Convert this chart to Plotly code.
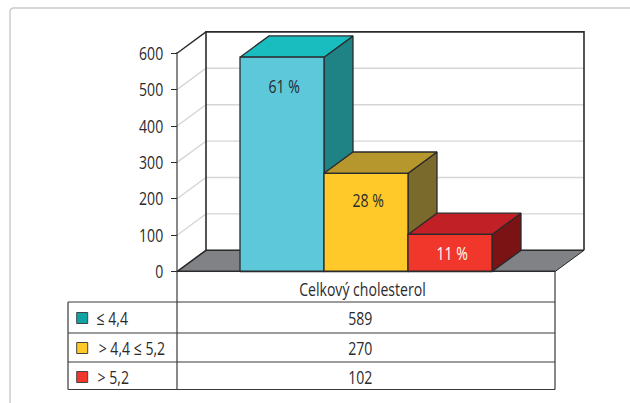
import plotly.graph_objects as go

# Cholesterol groups and patient counts
group_labels = ["≤ 4,4", "> 4,4 ≤ 5,2", "> 5,2"]
patient_counts = [589, 270, 102]
percent_labels = ["61 %", "28 %", "11 %"]
percent_colors = ["#2b2a2c", "#2b2a2c", "#ffffff"]
category_label = "Celkový cholesterol"
y_ticks = [0, 100, 200, 300, 400, 500, 600]

# Face colours per bar
front_colors = ["#5cc8da", "#ffc929", "#f1372c"]
top_colors = ["#19bdc0", "#b5972e", "#c02026"]
side_colors = ["#1f8285", "#7a6a2b", "#7b1214"]
swatch_colors = ["#0fa3a3", "#ffc929", "#f1372c"]

W, H = 630, 403
AXIS_X, PLOT_W = 177.0, 378.0     # left edge and width of the category band
BASE_Y, PX_PER_UNIT = 271.6, 0.364
DEPTH_X, DEPTH_Y = 29.0, 21.3     # oblique projection offset, in pixels
BAR_W = 2 / 9                     # bar width as a share of the category band
FIRST_BAR = 1 / 6
INK = "#2b2a2c"
FONT = "Open Sans, sans-serif"
FONT_SIZE = 19

dx = DEPTH_X / PLOT_W
dv = DEPTH_Y / PX_PER_UNIT
y_top = 600
x_range = [-AXIS_X / PLOT_W, (W - AXIS_X) / PLOT_W]
y_range = [-(H - BASE_Y) / PX_PER_UNIT, BASE_Y / PX_PER_UNIT]


def px_x(p):
    return (p - AXIS_X) / PLOT_W


def px_y(p):
    return (BASE_Y - p) / PX_PER_UNIT


fig = go.Figure()


def poly(xs, ys, fill=None, line=INK, width=1.3):
    fig.add_trace(go.Scatter(
        x=xs, y=ys, mode="lines", hoverinfo="skip", showlegend=False,
        fill="toself" if fill else None, fillcolor=fill,
        line=dict(color=line, width=width),
    ))


# Floor of the 3D box
poly([0, 1, 1 + dx, dx, 0], [0, 0, dv, dv, 0], fill="#808285", line="#808285", width=0.5)

# Gridlines on the side and back walls
for t in y_ticks[1:-1]:
    poly([0, dx, 1 + dx], [t, t + dv, t + dv], line="#d6d6d6", width=1.4)

# Box edges
poly([dx, dx, 1 + dx, 1 + dx], [dv, y_top + dv, y_top + dv, dv], line=INK, width=1.6)
poly([0, dx], [y_top, y_top + dv], line=INK, width=1.4)
poly([0, dx, 1 + dx], [0, dv, dv], line=INK, width=1.6)
poly([1, 1 + dx], [0, dv], line=INK, width=1.0)

# Bars, each made of front, side and top faces
for i, value in enumerate(patient_counts):
    x0 = FIRST_BAR + i * BAR_W
    x1 = x0 + BAR_W
    poly([x1, x1 + dx, x1 + dx, x1, x1], [0, dv, value + dv, value, 0], fill=side_colors[i])
    poly([x0, x0 + dx, x1 + dx, x1, x0], [value, value + dv, value + dv, value, value], fill=top_colors[i])
    poly([x0, x1, x1, x0, x0], [0, 0, value, value, 0], fill=front_colors[i])

# Legend keys in the table
row_lines = [302, 333, 362, 389.5]
row_centers = [318, 348, 377]
fig.add_trace(go.Scatter(
    x=[px_x(82.2)] * 3, y=[px_y(c) for c in row_centers], mode="markers",
    hoverinfo="skip", showlegend=False,
    marker=dict(symbol="square", size=11, color=swatch_colors, line=dict(color="#444", width=1)),
))


def rule(x0, y0, x1, y1, color="#3a3a3c", width=1.2):
    return dict(type="line", xref="paper", yref="paper", x0=x0 / W, x1=x1 / W,
                y0=1 - y0 / H, y1=1 - y1 / H, line=dict(color=color, width=width))


shapes = [
    # Rounded panel outline, running off the right and bottom of the page
    dict(type="path", xref="paper", yref="paper", layer="below",
         path=f"M {10 / W} 0 L {10 / W} {1 - 12 / H} Q {10 / W} {1 - 8 / H} {14 / W} {1 - 8 / H} L 1 {1 - 8 / H}",
         line=dict(color="#c9c9c9", width=1.4)),
    rule(AXIS_X, 52, AXIS_X, row_lines[-1]),
    rule(555, 271.3, 555, row_lines[-1]),
    rule(68, row_lines[0], 68, row_lines[-1]),
    rule(AXIS_X, 271.3, 555, 271.3, color=INK, width=1.4),
]
for y in row_lines:
    shapes.append(rule(68, y, 555, y))

annotations = []


def label(text, x, y, color=INK):
    annotations.append(dict(
        text=text, x=x / W, y=1 - y / H, xref="paper", yref="paper", showarrow=False,
        xanchor="center", yanchor="middle", font=dict(family=FONT, size=FONT_SIZE, color=color),
    ))


label(category_label, 362, 288.5)
group_centers = [112.5, 132, 112.5]
for i, value in enumerate(patient_counts):
    label(group_labels[i], group_centers[i], row_centers[i])
    label(str(value), 360, row_centers[i])
    x_mid = AXIS_X + PLOT_W * (FIRST_BAR + (i + 0.5) * BAR_W)
    label(percent_labels[i], x_mid + 2, [86, 200, 253][i], color=percent_colors[i])

fig.update_layout(
    width=W, height=H, margin=dict(l=0, r=0, t=0, b=0),
    paper_bgcolor="white", plot_bgcolor="rgba(0,0,0,0)", showlegend=False,
    shapes=shapes, annotations=annotations,
    xaxis=dict(range=x_range, visible=False, fixedrange=True, domain=[0, 1]),
    yaxis=dict(
        range=y_range, domain=[0, 1], anchor="free", position=AXIS_X / W,
        tickmode="array", tickvals=y_ticks, ticks="outside", ticklen=6,
        tickwidth=1.4, tickcolor=INK, showgrid=False, zeroline=False, showline=False,
        tickfont=dict(family=FONT, size=FONT_SIZE, color=INK), fixedrange=True,
        ticklabelstandoff=4,
    ),
)

# Condense all chart text horizontally, since no narrow face is available
condense_text = """
document.querySelectorAll('.annotation-text, .ytick text').forEach(function (t) {
    t.setAttribute('textLength', t.getComputedTextLength() * 0.74);
    t.setAttribute('lengthAdjust', 'spacingAndGlyphs');
});
"""

fig.write_html("out.html", config={"displayModeBar": False}, post_script=condense_text)
